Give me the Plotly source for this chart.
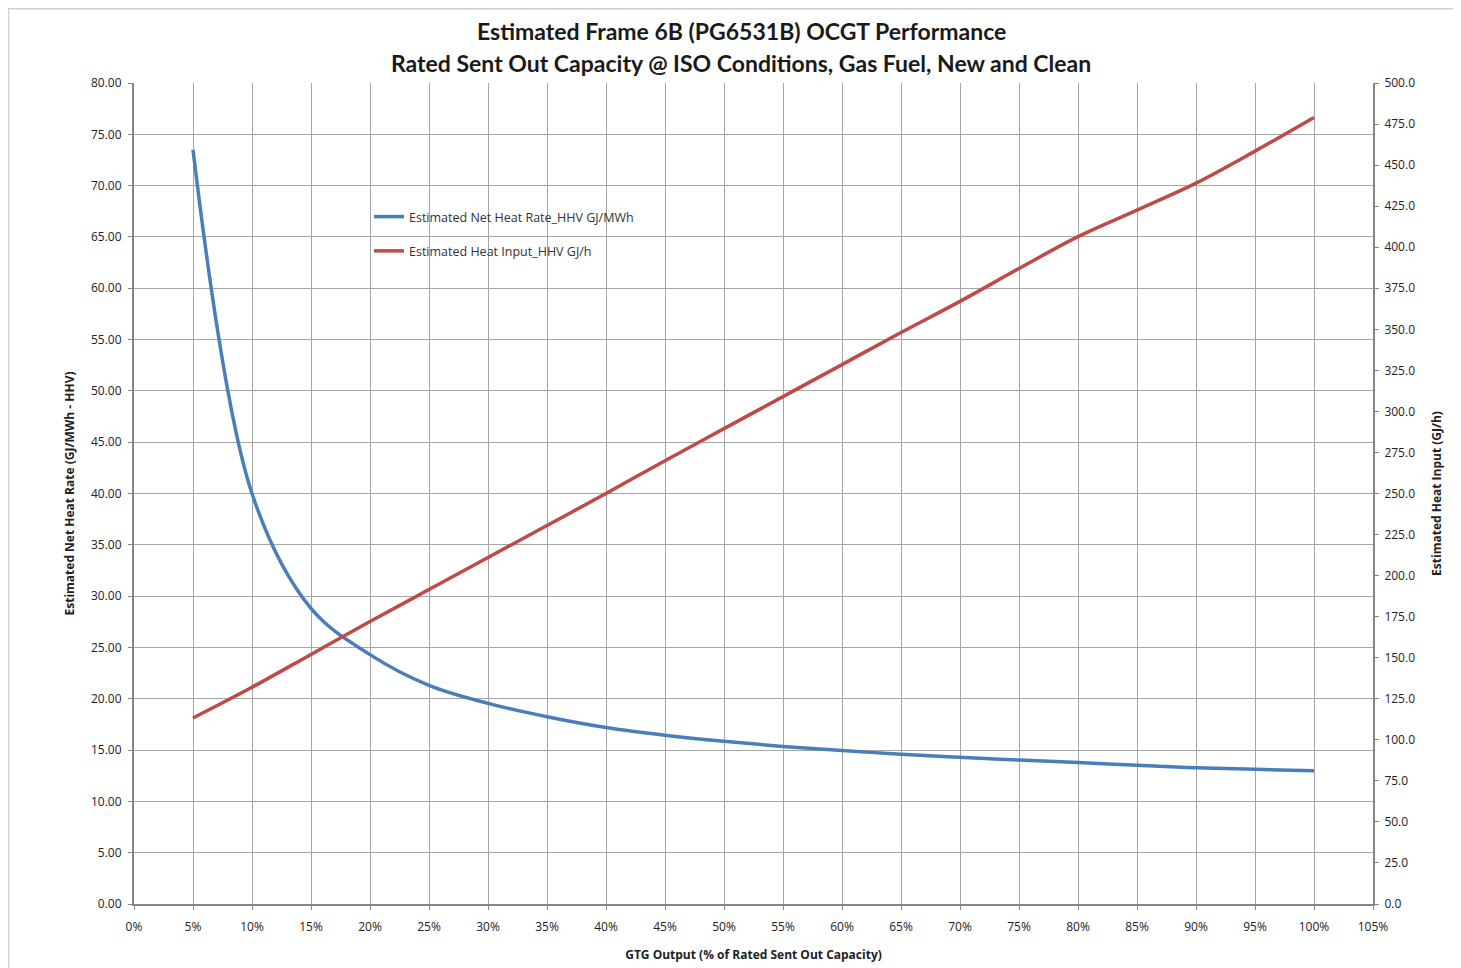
import plotly.graph_objects as go

output_pct = [0.05, 0.10, 0.15, 0.20, 0.25, 0.30, 0.35, 0.40, 0.45, 0.50,
              0.55, 0.60, 0.65, 0.70, 0.75, 0.80, 0.85, 0.90, 0.95, 1.00]
heat_rate = [73.5, 40.0, 28.8, 24.3, 21.3, 19.55, 18.25, 17.2, 16.45, 15.85,
             15.35, 14.95, 14.6, 14.3, 14.03, 13.78, 13.52, 13.28, 13.12, 12.98]
heat_input = [113.3, 132.0, 152.0, 172.0, 191.5, 211.0, 230.5, 250.0, 270.0, 289.5,
              309.0, 328.5, 348.0, 367.0, 387.0, 406.4, 422.6, 439.0, 458.5, 479.0]

left_ticks = [i * 5 for i in range(17)]
right_ticks = [i * 25 for i in range(21)]
x_ticks = [i * 0.05 for i in range(22)]

title_line1 = "Estimated Frame 6B (PG6531B) OCGT Performance"
title_line2 = "Rated Sent Out Capacity @ ISO Conditions, Gas Fuel, New and Clean"

title_font = "Lato, 'Open Sans', sans-serif"
font = "'Open Sans', Lato, sans-serif"

W, H = 1453, 960
ML, MR, MT, MB = 126, 88, 75, 64
PW, PH = W - ML - MR, H - MT - MB

fig = go.Figure()
fig.add_trace(go.Scatter(
    x=output_pct, y=heat_rate, mode="lines", name="Estimated Net Heat Rate_HHV GJ/MWh",
    line=dict(color="#4A7EBB", width=3.5, shape="spline"), legendgroup="a"))
fig.add_trace(go.Scatter(
    x=output_pct, y=heat_input, mode="lines", name="Estimated Heat Input_HHV GJ/h",
    line=dict(color="#BE4B48", width=3.5, shape="spline"), yaxis="y2", legendgroup="b"))

grid = "#A6A6A6"
axis_line = "#868686"


def py(page_y):
    fig_y = page_y - 8
    return 1 - (fig_y - MT) / PH


def px(page_x):
    fig_x = page_x - 8
    return (fig_x - ML) / PW


fig.update_layout(
    width=W, height=H,
    paper_bgcolor="white", plot_bgcolor="white",
    margin=dict(l=ML, r=MR, t=MT, b=MB, autoexpand=False),
    font=dict(family=font, size=12, color="#222222"),
    xaxis=dict(
        range=[0, 1.05], tickvals=x_ticks, tickformat=".0%",
        showgrid=True, gridcolor=grid, gridwidth=1.2,
        showline=True, linecolor=axis_line, linewidth=2,
        ticks="outside", ticklen=4, tickcolor=axis_line,
        tickfont=dict(size=12), ticklabelstandoff=7, automargin=False,
        title=dict(text="<b>GTG Output (% of Rated Sent Out Capacity)</b>", font=dict(size=12), standoff=16),
        zeroline=False),
    yaxis=dict(
        range=[0, 80], tickvals=left_ticks, tickformat=".2f",
        showgrid=True, gridcolor=grid, gridwidth=1.2,
        showline=True, linecolor=axis_line, linewidth=2,
        ticks="outside", ticklen=4, tickcolor=axis_line,
        tickfont=dict(size=12), ticklabelstandoff=4, automargin=False,
        title=dict(text="<b>Estimated Net Heat Rate (GJ/MWh - HHV)</b>", font=dict(size=12), standoff=14),
        zeroline=False),
    yaxis2=dict(
        range=[0, 500], tickvals=right_ticks, tickformat=".1f",
        overlaying="y", side="right", showgrid=False,
        showline=True, linecolor=axis_line, linewidth=2,
        ticks="outside", ticklen=4, tickcolor=axis_line,
        tickfont=dict(size=12), ticklabelstandoff=3, automargin=False,
        title=dict(text="<b>Estimated Heat Input (GJ/h)</b>", font=dict(size=12), standoff=18),
        zeroline=False),
    legend=dict(
        x=px(369), y=py(202), xanchor="left", yanchor="top",
        bgcolor="rgba(255,255,255,0)", font=dict(size=12.5, color="#333333"),
        traceorder="grouped", tracegroupgap=15),
    annotations=[
        dict(text="<b>" + title_line1 + "</b>", xref="paper", yref="paper",
             x=0.5 + (741 - (8 + ML + PW / 2)) / PW, y=py(31), xanchor="center", yanchor="middle",
             showarrow=False, font=dict(family=title_font, size=23, color="#1a1a1a")),
        dict(text="<b>" + title_line2 + "</b>", xref="paper", yref="paper",
             x=0.5 + (741 - (8 + ML + PW / 2)) / PW, y=py(63), xanchor="center", yanchor="middle",
             showarrow=False, font=dict(family=title_font, size=23, color="#1a1a1a")),
    ],
    shapes=[dict(type="rect", xref="paper", yref="paper",
                 x0=px(8.5), x1=1.2, y0=-0.2, y1=py(8.8),
                 line=dict(color="#D0D0D0", width=1.5), layer="below")],
)

fig.write_html("out.html")
